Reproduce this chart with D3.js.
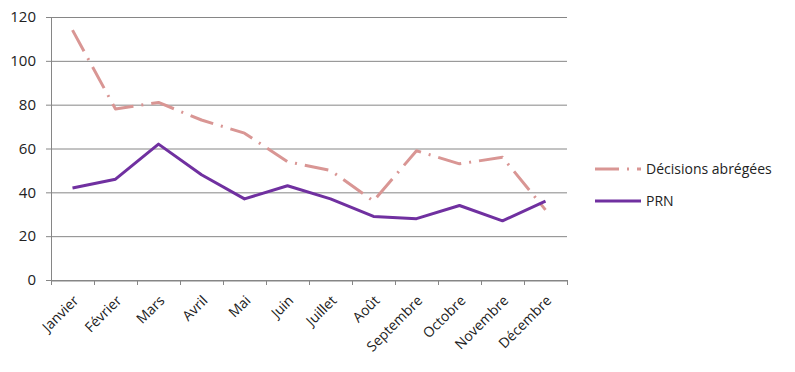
<!DOCTYPE html>
<html>
<head>
<meta charset="utf-8">
<script src="https://cdn.jsdelivr.net/npm/d3@7"></script>
<style>
  body { margin: 0; background: #fff; }
  text { font-family: "Open Sans", "Noto Sans", sans-serif; fill: #222; }
</style>
</head>
<body>
<svg id="chart" width="795" height="372"></svg>
<script>
// Data
const months = ["Janvier", "Février", "Mars", "Avril", "Mai", "Juin", "Juillet", "Août", "Septembre", "Octobre", "Novembre", "Décembre"];
const decisions = [114, 78, 81, 73, 67, 54, 50, 36, 59, 53, 56, 32];
const prn = [42, 46, 62, 48, 37, 43, 37, 29, 28, 34, 27, 36];
const yTicks = [0, 20, 40, 60, 80, 100, 120];

const series = [
    { name: "Décisions abrégées", values: decisions, color: "#d99694", dash: "24,8,2,8" },
    { name: "PRN", values: prn, color: "#7030a0", dash: null }
];

const margin = { top: 17, left: 51 };
const width = 567 - margin.left;
const height = 280 - margin.top;

const svg = d3.select("#chart")
    .append("g")
    .attr("transform", "translate(" + margin.left + "," + margin.top + ")");

const x = d3.scaleBand().domain(months).range([0, width]);
const y = d3.scaleLinear().domain([0, 120]).range([height, 0]);

// Gridlines
svg.append("g")
    .selectAll("line")
    .data(yTicks)
    .enter().append("line")
    .attr("x1", -5)
    .attr("x2", width)
    .attr("y1", d => y(d) + 0.5)
    .attr("y2", d => y(d) + 0.5)
    .attr("stroke", "#868686")
    .attr("stroke-width", 1);

// Y axis
const yAxis = svg.append("g")
    .call(d3.axisLeft(y).tickValues(yTicks).tickSize(0).tickPadding(15));
yAxis.select(".domain").attr("stroke", "#868686").attr("d", "M0.5,0V" + height);
yAxis.selectAll("text").style("font-size", "15px").attr("fill", "#222");

// X axis
const xAxis = svg.append("g")
    .attr("transform", "translate(0," + (height + 0.5) + ")")
    .call(d3.axisBottom(x).tickSize(0).tickPadding(0));
xAxis.select(".domain").attr("stroke", "#868686");
xAxis.selectAll(".tick text")
    .style("font-size", "14px")
    .attr("fill", "#222")
    .attr("text-anchor", "end")
    .attr("transform", "translate(0,14) rotate(-45)")
    .attr("dy", "0.7em");

// Tick marks between categories
svg.append("g")
    .selectAll("line")
    .data(d3.range(months.length + 1))
    .enter().append("line")
    .attr("x1", d => Math.round(d * x.step()) + 0.5)
    .attr("x2", d => Math.round(d * x.step()) + 0.5)
    .attr("y1", height)
    .attr("y2", height + 5)
    .attr("stroke", "#868686");

// Lines
const line = d3.line()
    .x((d, i) => x(months[i]) + x.bandwidth() / 2)
    .y(d => y(d));

series.forEach(s => {
    svg.append("path")
        .datum(s.values)
        .attr("fill", "none")
        .attr("stroke", s.color)
        .attr("stroke-width", 3)
        .attr("stroke-linejoin", "round")
        .attr("stroke-dasharray", s.dash)
        .attr("d", line);
});

// Legend
const legend = d3.select("#chart").append("g")
    .attr("transform", "translate(595,169)");

series.forEach((s, i) => {
    const g = legend.append("g").attr("transform", "translate(0," + (i * 32) + ")");
    g.append("line")
        .attr("x1", 0).attr("x2", 46)
        .attr("y1", 0).attr("y2", 0)
        .attr("stroke", s.color)
        .attr("stroke-width", 3)
        .attr("stroke-dasharray", s.dash);
    g.append("text")
        .attr("x", 51)
        .attr("y", 0)
        .attr("dy", "0.35em")
        .style("font-size", "14px")
        .text(s.name);
});
</script>
</body>
</html>
